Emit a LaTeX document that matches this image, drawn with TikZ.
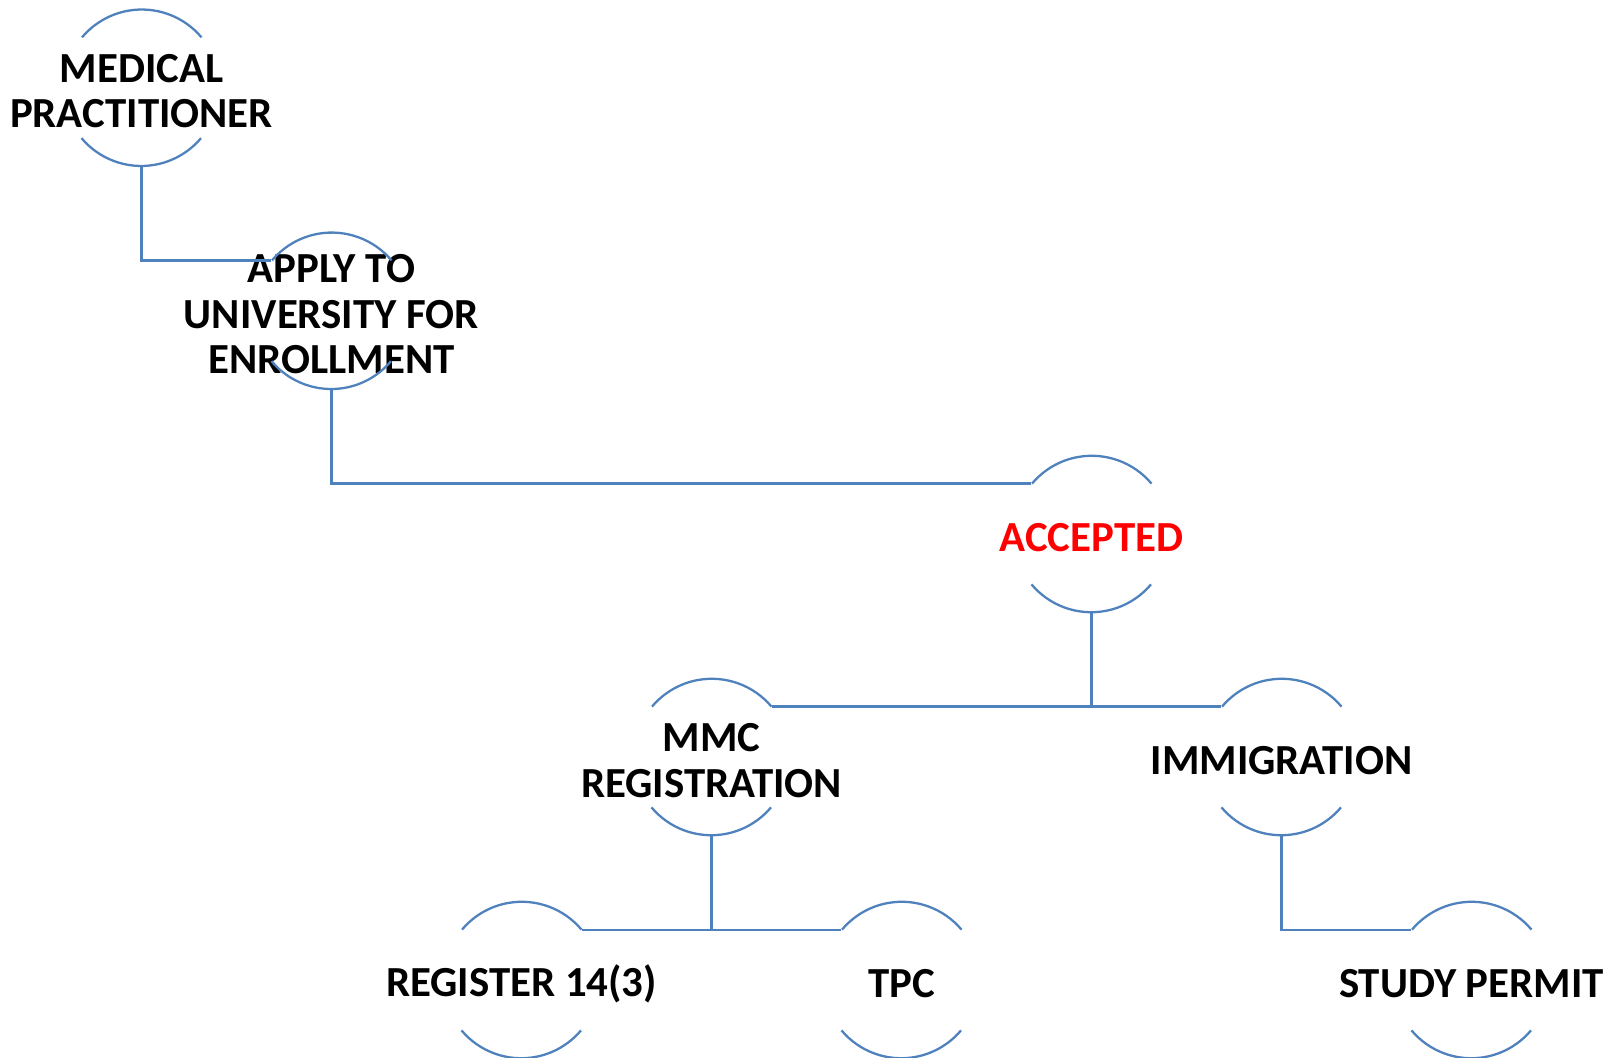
\documentclass[tikz,border=0pt]{standalone}
\usepackage{fontspec}
\setmainfont{Carlito}
\usepackage[rgb]{xcolor}
\usepackage{tikz}
\definecolor{ringblue}{RGB}{79,129,189}

\begin{document}
\begin{tikzpicture}[
  ring/.style={circle, minimum size=3.12cm, inner sep=0pt},
  txt/.style={font=\bfseries\fontsize{24.4}{25.8}\selectfont, align=center, text=black, yshift=-2pt},
  wire/.style={ringblue, line width=1.3pt}
]

\useasboundingbox (0,0) rectangle (32.38,-21.16);


% Medical practitioner
\node[ring, label={[txt]center:MEDICAL\\PRACTITIONER}] (med) at (2.83,-1.755) {};

% Apply to university
\node[ring, label={[txt]center:APPLY TO\\UNIVERSITY FOR\\ENROLLMENT}] (apply) at (6.63,-6.216) {};

% Accepted
\node[ring, label={[txt, text=red]center:ACCEPTED}] (acc) at (21.83,-10.68) {};

% MMC and immigration
\node[ring, label={[txt]center:MMC\\REGISTRATION}] (mmc) at (14.23,-15.14) {};
\node[ring, label={[txt]center:IMMIGRATION}] (imm) at (25.63,-15.14) {};

% Bottom row
\node[ring, label={[txt]center:REGISTER 14(3)}] (reg) at (10.43,-19.6) {};
\node[ring, label={[txt]center:TPC}] (tpc) at (18.03,-19.6) {};
\node[ring, label={[txt]center:STUDY PERMIT}] (permit) at (29.43,-19.6) {};


% Open circles
\foreach \n in {med,apply,acc,mmc,imm,reg,tpc,permit}{
  \draw[wire] (\n.40) arc[start angle=40, end angle=140, radius=1.56cm];
  \draw[wire] (\n.220) arc[start angle=220, end angle=320, radius=1.56cm];
}


% Connectors
\draw[wire] (med.south) |- (apply.140);
\draw[wire] (apply.south) |- (acc.140);
\draw[wire] (acc.south) |- (mmc.40);
\draw[wire] (acc.south) |- (imm.140);
\draw[wire] (mmc.south) |- (reg.40);
\draw[wire] (mmc.south) |- (tpc.140);
\draw[wire] (imm.south) |- (permit.140);

\end{tikzpicture}
\end{document}
